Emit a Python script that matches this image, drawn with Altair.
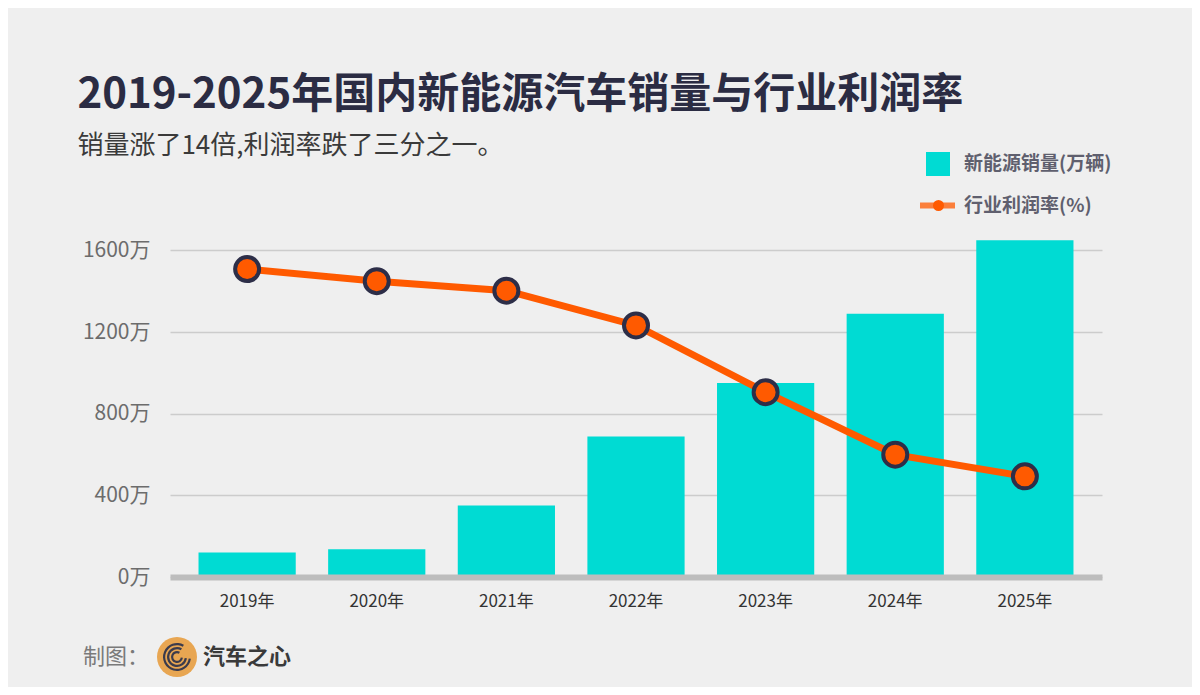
import altair as alt
import pandas as pd

years = ["2019年", "2020年", "2021年", "2022年", "2023年", "2024年", "2025年"]
sales = [120, 136, 350, 688, 950, 1290, 1650]          # 万辆
rate = [7.55, 7.41, 7.30, 6.90, 6.13, 5.41, 5.16]      # %
y_ticks = [0, 400, 800, 1200, 1600]

FONT = "Noto Sans CJK SC"
TEAL = "#00dbd3"
ORANGE = "#ff5a00"
NAVY = "#2d2e48"

df = pd.DataFrame({
    "year": years, "sales": sales, "rate": rate,
    "s_name": ["新能源销量(万辆)"] * len(years),
    "l_name": ["行业利润率(%)"] * len(years),
    "p_name": ["marker"] * len(years),
})

x_enc = alt.X(
    "year:N", sort=years,
    scale=alt.Scale(paddingInner=0.25, paddingOuter=0.22),
    axis=alt.Axis(title=None, labelAngle=0, ticks=False, grid=False,
                  domainColor="#bdbdbd", domainWidth=6, zindex=1,
                  labelFontSize=17, labelColor="#333333", labelPadding=16,
                  labelFont=FONT),
)

bars = alt.Chart(df).mark_bar().encode(
    x=x_enc,
    y=alt.Y("sales:Q", scale=alt.Scale(domain=[0, 1700], nice=False),
            axis=alt.Axis(title=None, values=y_ticks,
                          labelExpr="datum.value + '万'", ticks=False,
                          domain=False, gridColor="#cccccc", gridWidth=1.5,
                          labelFontSize=21, labelColor="#6c6c6c",
                          labelPadding=20, labelFont=FONT)),
    fill=alt.Fill("s_name:N", scale=alt.Scale(range=[TEAL]),
                  legend=alt.Legend(title=None, orient="none",
                                    legendX=756, legendY=-78,
                                    symbolType="square", symbolSize=576,
                                    symbolStrokeWidth=0,
                                    labelFont=FONT, labelFontSize=19,
                                    labelFontWeight="bold",
                                    labelColor="#5f5f6e", labelOffset=14,
                                    padding=0)),
)

line = alt.Chart(df).mark_line(strokeWidth=7).encode(
    x=alt.X("year:N", sort=years),
    y=alt.Y("rate:Q", scale=alt.Scale(domain=[4, 8], nice=False), axis=None),
    stroke=alt.Stroke("l_name:N", scale=alt.Scale(range=[ORANGE]),
                      legend=alt.Legend(title=None, orient="none",
                                        legendX=747, legendY=-45,
                                        symbolType="stroke", symbolSize=1225,
                                        symbolStrokeWidth=6, symbolOpacity=0.75,
                                        labelFont=FONT, labelFontSize=19,
                                        labelFontWeight="bold",
                                        labelColor="#5f5f6e", labelOffset=6,
                                        padding=0)),
)

points = alt.Chart(df).mark_point(filled=True, size=576, fill=ORANGE,
                                  stroke=NAVY, strokeWidth=4, opacity=1).encode(
    x=alt.X("year:N", sort=years),
    y=alt.Y("rate:Q", scale=alt.Scale(domain=[4, 8], nice=False), axis=None),
    shape=alt.Shape("p_name:N", scale=alt.Scale(range=["circle"]),
                    legend=alt.Legend(title=None, orient="none",
                                      legendX=761, legendY=-32,
                                      symbolSize=121, symbolFillColor=ORANGE,
                                      symbolStrokeColor=NAVY,
                                      symbolStrokeWidth=3.5, labelExpr="''",
                                      padding=0)),
)

# footer credit
credit = pd.DataFrame({"t": ["制图："]})
brand = pd.DataFrame({"t": ["汽车之心"]})
one = pd.DataFrame({"k": [1]})

credit_text = alt.Chart(credit).mark_text(
    align="left", baseline="middle", fontSize=22, color="#7a7a7a", font=FONT
).encode(x=alt.value(-87), y=alt.value(427), text="t:N")

logo_circle = alt.Chart(one).mark_circle(size=1600, color="#e8a652", opacity=1).encode(
    x=alt.value(7), y=alt.value(427))

arcs = [
    alt.Chart(one).mark_arc(radius=r, radius2=r - 2.2, theta=1.7, theta2=6.8,
                            color="#3b3b4c").encode(x=alt.value(7), y=alt.value(427))
    for r in (6, 10, 14)
]

brand_text = alt.Chart(brand).mark_text(
    align="left", baseline="middle", fontSize=22, fontWeight="bold",
    color="#3a3a3a", font=FONT
).encode(x=alt.value(33), y=alt.value(427), text="t:N")

chart = alt.layer(bars, line, points, credit_text, logo_circle, *arcs, brand_text).resolve_scale(
    y="independent"
).properties(
    width=932, height=347,
    autosize=alt.AutoSizeParams(type="none"),
    padding={"left": 162, "top": 222, "right": 90, "bottom": 110},
    background="#efefef",
    title=alt.Title(
        "2019-2025年国内新能源汽车销量与行业利润率",
        subtitle="销量涨了14倍,利润率跌了三分之一。",
        anchor="start", dx=-5, dy=4, offset=-4,
        font=FONT, fontSize=42, fontWeight="bold", color="#2b2c43",
        subtitleFont=FONT, subtitleFontSize=26, subtitleColor="#3a3a3a",
        subtitlePadding=16,
    ),
).configure_view(stroke=None)

chart.save("out.html", embed_options={"renderer": "svg", "actions": False})
